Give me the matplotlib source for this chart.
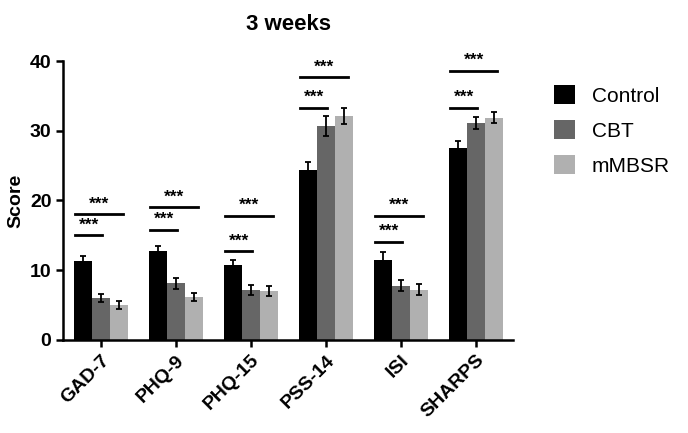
import matplotlib
matplotlib.use("Agg")
import matplotlib.pyplot as plt
import numpy as np

categories = ["GAD-7", "PHQ-9", "PHQ-15", "PSS-14", "ISI", "SHARPS"]
series = ["Control", "CBT", "mMBSR"]
control = [11.3, 12.7, 10.7, 24.4, 11.5, 27.5]
cbt = [6.0, 8.1, 7.2, 30.7, 7.8, 31.1]
mmbsr = [5.0, 6.2, 7.0, 32.1, 7.2, 31.9]
control_err = [0.8, 0.8, 0.8, 1.1, 1.1, 1.0]
cbt_err = [0.6, 0.8, 0.7, 1.4, 0.8, 0.9]
mmbsr_err = [0.6, 0.6, 0.7, 1.1, 0.8, 0.8]
sig_short = [15.0, 15.8, 12.7, 33.3, 14.1, 33.3]
sig_long = [18.0, 19.0, 17.8, 37.7, 17.8, 38.6]
colors = ["#000000", "#666666", "#b0b0b0"]

plt.rcParams["font.family"] = "Liberation Sans"
fig = plt.figure(figsize=(6.88, 4.33), dpi=100)
ax = fig.add_axes([0.092, 0.215, 0.654, 0.644])
x = np.arange(len(categories))
w = 0.24
for i, (vals, errs) in enumerate(zip([control, cbt, mmbsr], [control_err, cbt_err, mmbsr_err])):
    ax.bar(x + (i - 1) * w, vals, w, color=colors[i], label=series[i],
           yerr=errs, capsize=2.5, error_kw=dict(elinewidth=1.3, capthick=1.3, ecolor="black"))
for j in range(len(categories)):
    x0 = x[j] - w - 0.1
    ax.plot([x0, x[j] + 0.02], [sig_short[j]] * 2, color="black", lw=2)
    ax.text((x0 + x[j] + 0.02) / 2, sig_short[j] + 0.4, "***", ha="center", va="bottom", fontsize=12.5, fontweight="bold")
    ax.plot([x0, x[j] + w + 0.05], [sig_long[j]] * 2, color="black", lw=2)
    ax.text((x0 + x[j] + w + 0.05) / 2, sig_long[j] + 0.4, "***", ha="center", va="bottom", fontsize=12.5, fontweight="bold")
ax.set_xlim(-0.5, 5.5)
ax.set_ylim(0, 40)
ax.set_yticks([0, 10, 20, 30, 40])
ax.set_xticks(x)
ax.set_xticklabels(categories, rotation=45, ha="right", rotation_mode="anchor", fontsize=14, fontweight="bold")
for t in ax.get_yticklabels():
    t.set_fontweight("bold"); t.set_fontsize(14)
ax.set_ylabel("Score", fontsize=14, fontweight="bold")
ax.set_title("3 weeks", fontsize=16, fontweight="bold", pad=22)
for s in ["top", "right"]:
    ax.spines[s].set_visible(False)
for s in ["left", "bottom"]:
    ax.spines[s].set_linewidth(1.8)
ax.tick_params(width=1.8, length=5)
ax.legend(loc="upper left", bbox_to_anchor=(1.05, 0.98), frameon=False, fontsize=15,
          handlelength=1.0, handleheight=1.0, labelspacing=0.7)
fig.savefig("out.png", dpi=100)
